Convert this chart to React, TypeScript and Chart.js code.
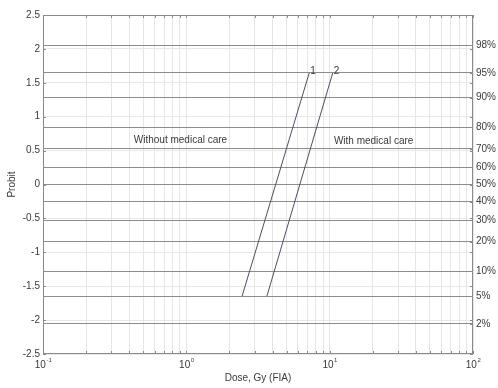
import React, { useEffect, useRef } from 'react';
import { Chart, registerables } from 'chart.js';

Chart.register(...registerables);

const FONT = '"Liberation Sans", Arial, Helvetica, sans-serif';
const TEXT = '#3a3a3a';

// X axis (log dose)
const doseDecades = [0.1, 1, 10];
const decadeSteps = [1, 2, 3, 4, 5, 6, 7, 8, 9];
const xMin = 0.1;
const xMax = 100;
const xLabelTicks = [0.1, 1, 10, 100];
const xLabelExponents = ['-1', '0', '1', '2'];

// Left Y axis (probit)
const yMin = -2.5;
const yMax = 2.5;
const yStep = 0.5;

// Right Y axis (percent)
const percentLabels = ['2%', '5%', '10%', '20%', '30%', '40%', '50%', '60%', '70%', '80%', '90%', '95%', '98%'];
const percentProbits = [-2.054, -1.645, -1.282, -0.842, -0.524, -0.253, 0, 0.253, 0.524, 0.842, 1.282, 1.645, 2.054];

// Series
const line1Dose = [2.45, 7.2];
const line2Dose = [3.65, 10.5];
const lineProbit = [-1.645, 1.645];
const lineNames = ['1', '2'];

// Annotations
const noteTexts = ['Without medical care', 'With medical care'];
const noteDose = [0.43, 10.7];
const noteProbit = [0.65, 0.64];

const xGridTicks: number[] = [];
doseDecades.forEach((d) => decadeSteps.forEach((s) => xGridTicks.push(+(d * s).toPrecision(3))));
xGridTicks.push(xMax);

const overlayPlugin = {
  id: 'overlay',
  afterDatasetsDraw(chart: any) {
    const { ctx, chartArea: a, scales } = chart;
    const xs = scales.x;
    const ys = scales.y;
    ctx.save();
    // box
    ctx.strokeStyle = '#8a8a8a';
    ctx.lineWidth = 1;
    ctx.strokeRect(Math.round(a.left) + 0.5, Math.round(a.top) + 0.5, Math.round(a.right - a.left) - 1, Math.round(a.bottom - a.top) - 1);
    // inward ticks
    ctx.beginPath();
    ys.ticks.forEach((t: any) => {
      const y = Math.round(ys.getPixelForValue(t.value)) + 0.5;
      ctx.moveTo(a.left, y); ctx.lineTo(a.left + 3, y);
      ctx.moveTo(a.right, y); ctx.lineTo(a.right - 3, y);
    });
    percentProbits.forEach((p) => {
      const y = Math.round(ys.getPixelForValue(p)) + 0.5;
      ctx.moveTo(a.right, y); ctx.lineTo(a.right - 3, y);
    });
    xGridTicks.forEach((v) => {
      const x = Math.round(xs.getPixelForValue(v)) + 0.5;
      ctx.moveTo(x, a.bottom); ctx.lineTo(x, a.bottom - 3);
      ctx.moveTo(x, a.top); ctx.lineTo(x, a.top + 3);
    });
    ctx.stroke();

    ctx.fillStyle = TEXT;
    ctx.font = `10px ${FONT}`;
    ctx.textBaseline = 'middle';
    ctx.textAlign = 'left';
    // line labels
    chart.data.datasets.forEach((ds: any, i: number) => {
      const top = ds.data[ds.data.length - 1];
      const px = xs.getPixelForValue(top.x);
      const py = ys.getPixelForValue(top.y);
      ctx.fillText(lineNames[i], px + 1, py - 2);
    });
    // notes
    noteTexts.forEach((t, i) => {
      ctx.fillText(t, xs.getPixelForValue(noteDose[i]), ys.getPixelForValue(noteProbit[i]));
    });
    // x tick labels 10^n
    xLabelTicks.forEach((v, i) => {
      const x = xs.getPixelForValue(v);
      const y = a.bottom + 11;
      ctx.font = `10px ${FONT}`;
      const w1 = ctx.measureText('10').width;
      ctx.font = `6px ${FONT}`;
      const w2 = ctx.measureText(xLabelExponents[i]).width;
      const start = x - (w1 + w2) / 2;
      ctx.textAlign = 'left';
      ctx.font = `10px ${FONT}`;
      ctx.fillText('10', start, y);
      ctx.font = `6px ${FONT}`;
      ctx.fillText(xLabelExponents[i], start + w1 + 0.5, y - 5);
    });
    ctx.restore();
  },
};

export default function App() {
  const ref = useRef<HTMLCanvasElement | null>(null);
  useEffect(() => {
    document.body.style.margin = '0';
    if (!ref.current) return;
    const chart = new Chart(ref.current, {
      type: 'scatter',
      data: {
        datasets: [line1Dose, line2Dose].map((doses) => ({
          data: doses.map((d, i) => ({ x: d, y: lineProbit[i] })),
          showLine: true,
          borderColor: '#4d4d66',
          borderWidth: 1,
          pointRadius: 0,
          yAxisID: 'y',
        })),
      },
      options: {
        responsive: false,
        animation: false,
        layout: { padding: { top: 15, left: 0, right: 0, bottom: 0 } },
        plugins: { legend: { display: false }, tooltip: { enabled: false } },
        scales: {
          x: {
            type: 'logarithmic',
            min: xMin,
            max: xMax,
            afterBuildTicks: (s: any) => { s.ticks = xGridTicks.map((v) => ({ value: v })); },
            afterFit: (s: any) => { s.height = 34; },
            ticks: { display: false },
            border: { display: false },
            grid: { color: '#e6e6e6', drawTicks: false, lineWidth: 1 },
            title: {
              display: true,
              text: 'Dose, Gy (FIA)',
              color: TEXT,
              font: { family: FONT, size: 10 },
              padding: { top: 0, bottom: 4 },
            },
          },
          y: {
            type: 'linear',
            position: 'left',
            min: yMin,
            max: yMax,
            ticks: {
              stepSize: yStep,
              color: TEXT,
              font: { family: FONT, size: 10 },
              padding: 3,
              callback: (v: any) => `${+Number(v).toFixed(2)}`,
            },
            afterFit: (s: any) => { s.width = 43; },
            border: { display: false },
            grid: { color: '#e8e8e8', drawTicks: false },
            title: {
              display: true,
              text: 'Probit',
              color: TEXT,
              font: { family: FONT, size: 10 },
              padding: { top: 6, bottom: 0 },
            },
          },
          y2: {
            type: 'linear',
            position: 'right',
            min: yMin,
            max: yMax,
            afterBuildTicks: (s: any) => { s.ticks = percentProbits.map((v) => ({ value: v })); },
            ticks: {
              color: TEXT,
              font: { family: FONT, size: 10 },
              padding: 3,
              callback: (_v: any, i: number) => percentLabels[i],
            },
            afterFit: (s: any) => { s.width = 25; },
            border: { display: false },
            grid: { color: '#8c8c8c', drawTicks: false },
          },
        },
      },
      plugins: [overlayPlugin],
    } as any);
    return () => chart.destroy();
  }, []);
  return (
    <div style={{ width: 498, height: 388 }}>
      <canvas ref={ref} width={498} height={388} style={{ width: 498, height: 388, display: 'block' }} />
    </div>
  );
}
